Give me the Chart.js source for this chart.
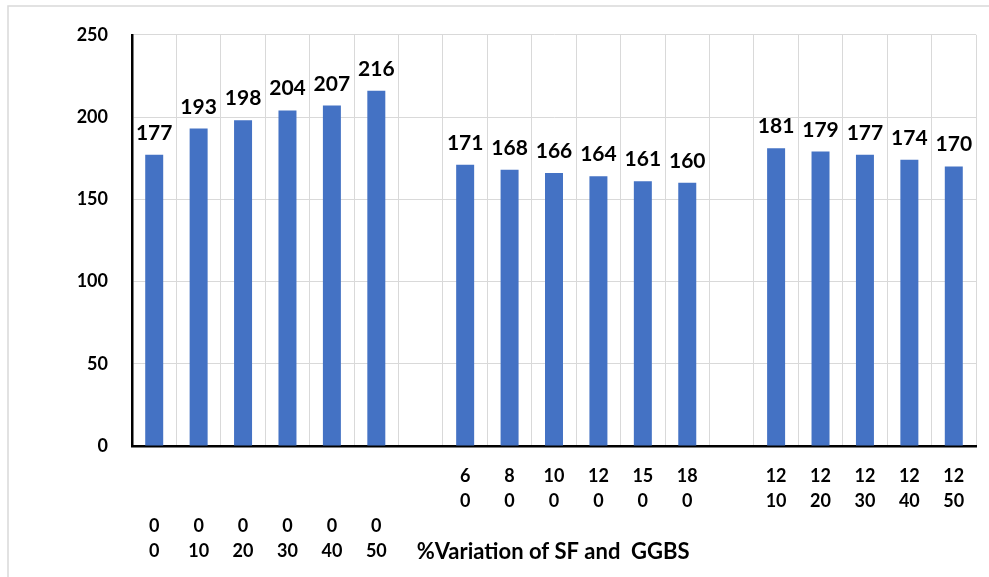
<!DOCTYPE html>
<html>
<head>
<meta charset="utf-8">
<script src="https://cdn.jsdelivr.net/npm/chart.js@4.4.1/dist/chart.umd.min.js"></script>
<style>
  html, body { margin: 0; padding: 0; background: #ffffff; }
  #wrap { position: relative; width: 989px; height: 577px; }
  canvas { display: block; }
</style>
</head>
<body>
<div id="wrap"><canvas id="c" width="989" height="577"></canvas></div>
<script>
// SF % (upper label row) and GGBS % (lower label row) for each mix; empty slots separate the groups
const sfRow   = ['0', '0', '0', '0', '0', '0', '', '6', '8', '10', '12', '15', '18', '', '12', '12', '12', '12', '12'];
const ggbsRow = ['0', '10', '20', '30', '40', '50', '', '0', '0', '0', '0', '0', '0', '', '10', '20', '30', '40', '50'];
// the plain-concrete / GGBS-only mixes carry their labels two rows lower
const labelShift = [2, 2, 2, 2, 2, 2, 0, 0, 0, 0, 0, 0, 0, 0, 0, 0, 0, 0, 0];

// measured values
const values = [177, 193, 198, 204, 207, 216, null, 171, 168, 166, 164, 161, 160, null, 181, 179, 177, 174, 170];

const yTicks = [0, 50, 100, 150, 200, 250];
const axisTitle = '%Variation of SF and  GGBS';

const FONT = 'Lato, "Open Sans", "Liberation Sans", sans-serif';
const LINE_H = 25;
const X_TICK_PAD = 18;

const labels = sfRow.map((sf, i) => {
  if (sf === '' && ggbsRow[i] === '') return '';
  const lines = [];
  for (let k = 0; k < labelShift[i]; k++) lines.push('');
  lines.push(sf, ggbsRow[i]);
  return lines;
});

// light frame around the chart area
const framePlugin = {
  id: 'frame',
  beforeDraw(chart) {
    const ctx = chart.ctx;
    ctx.save();
    ctx.strokeStyle = '#d9d9d9';
    ctx.lineWidth = 1.5;
    ctx.beginPath();
    ctx.moveTo(8, chart.height);
    ctx.lineTo(8, 6);
    ctx.lineTo(chart.width, 6);
    ctx.stroke();
    ctx.restore();
  }
};

// value labels above each bar
const valueLabels = {
  id: 'valueLabels',
  afterDatasetsDraw(chart) {
    const ctx = chart.ctx;
    const meta = chart.getDatasetMeta(0);
    const data = chart.data.datasets[0].data;
    ctx.save();
    ctx.font = 'bold 21px ' + FONT;
    ctx.fillStyle = '#000000';
    ctx.textAlign = 'center';
    ctx.textBaseline = 'alphabetic';
    meta.data.forEach((bar, i) => {
      if (data[i] == null) return;
      ctx.fillText(String(data[i]), bar.x, bar.y - 15);
    });
    ctx.restore();
  }
};

// x-axis title sharing the bottom label row
const xTitle = {
  id: 'xTitle',
  afterDraw(chart) {
    const ctx = chart.ctx;
    const xs = chart.scales.x;
    ctx.save();
    ctx.font = 'bold 22px ' + FONT;
    ctx.fillStyle = '#000000';
    ctx.textAlign = 'left';
    ctx.textBaseline = 'middle';
    const x = xs.getPixelForValue(6) - 4;
    const y = chart.chartArea.bottom + X_TICK_PAD + 3.5 * LINE_H;
    ctx.fillText(axisTitle, x, y);
    ctx.restore();
  }
};

new Chart(document.getElementById('c'), {
  type: 'bar',
  data: {
    labels: labels,
    datasets: [{
      data: values,
      backgroundColor: '#4472c4',
      borderWidth: 0,
      barPercentage: 0.9,
      categoryPercentage: 0.45
    }]
  },
  options: {
    responsive: false,
    animation: false,
    events: [],
    layout: { padding: { left: 0, right: 13, top: 34, bottom: 0 } },
    plugins: {
      legend: { display: false },
      tooltip: { enabled: false },
      title: { display: false }
    },
    scales: {
      x: {
        grid: { color: '#d9d9d9', lineWidth: 1, offset: true, drawTicks: false },
        border: { color: '#000000', width: 2.5 },
        ticks: {
          color: '#000000',
          font: { family: FONT, size: 18, weight: 'bold', lineHeight: LINE_H / 18 },
          padding: X_TICK_PAD,
          autoSkip: false,
          maxRotation: 0,
          minRotation: 0
        },
        afterFit(scale) { scale.height = 131; }
      },
      y: {
        min: 0,
        max: 250,
        afterBuildTicks(scale) { scale.ticks = yTicks.map(v => ({ value: v })); },
        grid: { color: '#d9d9d9', lineWidth: 1, drawTicks: false },
        border: { color: '#000000', width: 2.5 },
        ticks: {
          color: '#000000',
          font: { family: FONT, size: 18, weight: 'bold' },
          padding: 24
        },
        afterFit(scale) { scale.width = 132; }
      }
    }
  },
  plugins: [framePlugin, valueLabels, xTitle]
});
</script>
</body>
</html>
